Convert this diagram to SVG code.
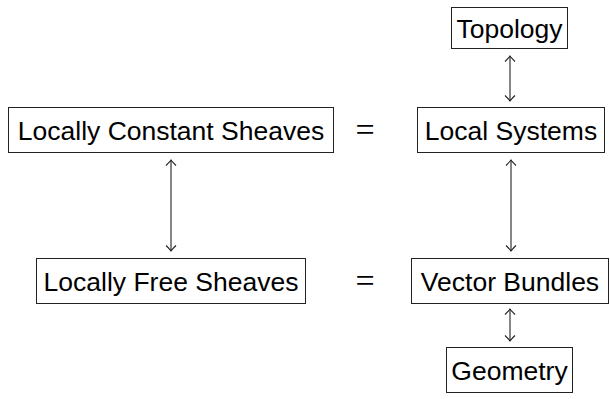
<svg xmlns="http://www.w3.org/2000/svg" width="610" height="399" viewBox="0 0 610 399">
<defs>
<style>
.box{fill:#fff;stroke:#222;stroke-width:1}
.t{font-family:"Liberation Sans","DejaVu Sans",sans-serif;font-size:26.5px;fill:#000;text-anchor:middle}
.eq{font-family:"Liberation Serif","DejaVu Serif",serif;font-size:34px;fill:#000;text-anchor:middle}
.c{fill:none;stroke:#222;stroke-width:1.1}
</style>
<marker id="hd" viewBox="-7 -7 14 14" markerWidth="14" markerHeight="14" refX="0" refY="0" orient="auto-start-reverse" markerUnits="userSpaceOnUse">
<path d="M-5.5,-5 Q-1.5,-1 0,0 Q-1.5,1 -5.5,5" fill="none" stroke="#222" stroke-width="1.1"/>
</marker>
</defs>
<g id="connectors">
<line class="c" x1="510" y1="56" x2="510" y2="101" marker-start="url(#hd)" marker-end="url(#hd)"/>
<line class="c" x1="171" y1="160" x2="171" y2="251" marker-start="url(#hd)" marker-end="url(#hd)"/>
<line class="c" x1="511" y1="160" x2="511" y2="251" marker-start="url(#hd)" marker-end="url(#hd)"/>
<line class="c" x1="510" y1="309" x2="510" y2="341" marker-start="url(#hd)" marker-end="url(#hd)"/>
</g>
<g id="topology"><rect class="box" x="451.5" y="7.5" width="116" height="41"/><text class="t" x="509.5" y="38">Topology</text></g>
<g id="lcs"><rect class="box" x="8.5" y="107.5" width="325" height="45"/><text class="t" x="171" y="140">Locally Constant Sheaves</text></g>
<g id="eq1"><text class="eq" x="365" y="141">=</text></g>
<g id="ls"><rect class="box" x="417.5" y="107.5" width="187" height="45"/><text class="t" x="511" y="140">Local Systems</text></g>
<g id="lfs"><rect class="box" x="36.5" y="258.5" width="269" height="45"/><text class="t" x="171" y="291">Locally Free Sheaves</text></g>
<g id="eq2"><text class="eq" x="365" y="292">=</text></g>
<g id="vb"><rect class="box" x="411.5" y="258.5" width="197" height="45"/><text class="t" x="510" y="291">Vector Bundles</text></g>
<g id="geometry"><rect class="box" x="446.5" y="347.5" width="126" height="45"/><text class="t" x="509.5" y="380">Geometry</text></g>
</svg>
